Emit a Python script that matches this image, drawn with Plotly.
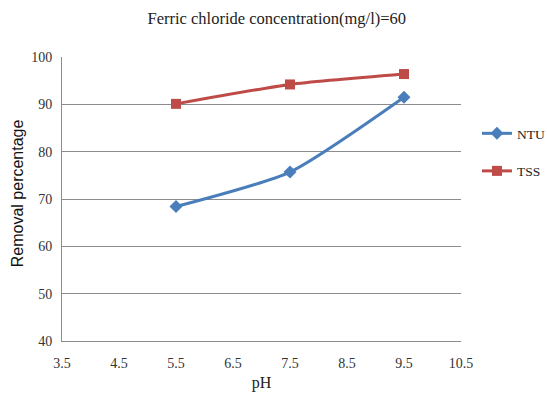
import plotly.graph_objects as go

# pH values tested and removal efficiencies (%)
ph = [5.5, 7.5, 9.5]
ntu_removal = [68.4, 75.7, 91.5]
tss_removal = [90.1, 94.2, 96.4]

x_ticks = [3.5, 4.5, 5.5, 6.5, 7.5, 8.5, 9.5, 10.5]
y_ticks = [40, 50, 60, 70, 80, 90, 100]

blue = "#4A7EBB"
red = "#BE4B48"
grid = "#8C8C8C"
serif = "Liberation Serif"

fig = go.Figure()
fig.add_trace(go.Scatter(
    x=ph, y=ntu_removal, name="NTU", mode="lines+markers",
    line=dict(color=blue, width=3, shape="spline", smoothing=0.6),
    marker=dict(symbol="diamond", size=10, color=blue),
    legendgroup="a",
))
fig.add_trace(go.Scatter(
    x=ph, y=tss_removal, name="TSS", mode="lines+markers",
    line=dict(color=red, width=3, shape="spline", smoothing=0.6),
    marker=dict(symbol="square", size=10, color=red),
    legendgroup="b",
))

fig.update_layout(
    width=547, height=398,
    margin=dict(l=62, r=86, t=57, b=57, autoexpand=False),
    paper_bgcolor="white", plot_bgcolor="white",
    title=dict(text="Ferric chloride concentration(mg/l)=60",
               x=0.506, xanchor="center", y=0.955, yanchor="middle",
               font=dict(family=serif, size=16.5, color="#222")),
    xaxis=dict(range=[3.5, 10.5], tickvals=x_ticks,
               ticktext=[str(v) for v in x_ticks],
               showgrid=False, zeroline=False,
               showline=True, linecolor=grid, linewidth=1,
               ticks="", ticklabelstandoff=9,
               tickfont=dict(family=serif, size=14, color="#333"),
               title=dict(text="pH", font=dict(family=serif, size=16, color="#222"),
                          standoff=7)),
    yaxis=dict(range=[40, 100], tickvals=y_ticks,
               showgrid=True, gridcolor=grid, gridwidth=1, zeroline=False,
               showline=True, linecolor=grid, linewidth=1,
               ticks="", ticklabelstandoff=6,
               tickfont=dict(family=serif, size=14, color="#333")),
    annotations=[dict(
        text="Removal percentage", textangle=-90,
        xref="paper", yref="paper", x=-0.113, y=0.52,
        xanchor="center", yanchor="middle", showarrow=False,
        font=dict(family="Liberation Sans", size=16, color="#111"),
    )],
    legend=dict(x=1.04, xanchor="left", y=0.785, yanchor="top",
                traceorder="grouped", tracegroupgap=17,
                font=dict(family=serif, size=13.5, color="#222"),
                itemwidth=30, bgcolor="rgba(0,0,0,0)"),
    showlegend=True,
)

fig.write_html("out.html")
